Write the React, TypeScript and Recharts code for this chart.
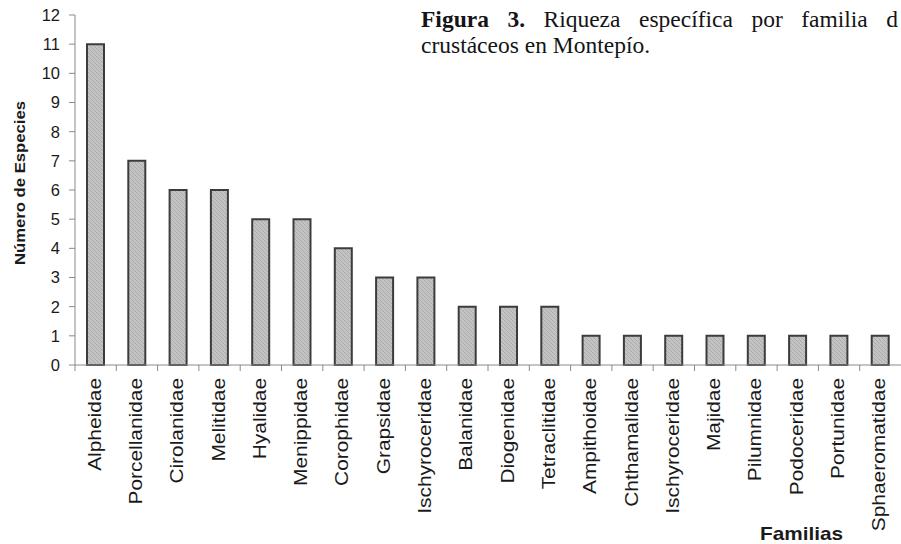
import React from 'react';
import { BarChart, Bar, XAxis, YAxis } from 'recharts';

const families = [
	'Alpheidae',
	'Porcellanidae',
	'Cirolanidae',
	'Melitidae',
	'Hyalidae',
	'Menippidae',
	'Corophidae',
	'Grapsidae',
	'Ischyroceridae',
	'Balanidae',
	'Diogenidae',
	'Tetraclitidae',
	'Ampithoidae',
	'Chthamalidae',
	'Ischyroceridae ',
	'Majidae',
	'Pilumnidae',
	'Podoceridae',
	'Portunidae',
	'Sphaeromatidae',
];
const species = [11, 7, 6, 6, 5, 5, 4, 3, 3, 2, 2, 2, 1, 1, 1, 1, 1, 1, 1, 1];
const yTicks = [0, 1, 2, 3, 4, 5, 6, 7, 8, 9, 10, 11, 12];

const titleLine1 = ['Riqueza', 'específica', 'por', 'familia', 'd'];
const titleLine2 = 'crustáceos en Montepío.';

const data = families.map((name, i) => ({ name, value: species[i] }));

const CHART_W = 901;
const CHART_H = 544;
const AXIS_W = 75;
const HALF_BAND = (CHART_W - AXIS_W) / families.length / 2;

function FamilyTick(props: any) {
	const { x, y, payload } = props;
	const off = payload && payload.offset ? payload.offset : HALF_BAND;
	return (
		<g>
			<line x1={x - off} x2={x - off} y1={y} y2={y + 6} stroke="#8a8a8a" strokeWidth={1} />
			<text
				transform={`translate(${x + 5}, ${y + 13}) rotate(-90) scale(1.16, 1)`}
				textAnchor="end"
				fontFamily="'Liberation Sans', Arial, sans-serif"
				fontSize={18}
				fill="#1a1a1a"
			>
				{String(payload.value).trim()}
			</text>
		</g>
	);
}

export default function App() {
	return (
		<div style={{ position: 'relative', width: CHART_W, height: CHART_H, background: '#fff' }}>
			<style>{'body{margin:0}'}</style>
			<BarChart
				width={CHART_W}
				height={CHART_H}
				data={data}
				margin={{ top: 15, right: 0, left: 0, bottom: 0 }}
			>
				<defs>
					<pattern id="hatch" patternUnits="userSpaceOnUse" width="4" height="4">
						<rect width="4" height="4" fill="#c3c3c3" />
						<path d="M-1,-1 L5,5 M3,-1 L5,1 M-1,3 L1,5" stroke="#acacac" strokeWidth="1" />
					</pattern>
				</defs>
				<XAxis
					dataKey="name"
					height={179}
					interval={0}
					tickSize={0}
					tickMargin={0}
					tickLine={false}
					axisLine={{ stroke: '#8a8a8a', strokeWidth: 1 }}
					tick={<FamilyTick />}
				/>
				<YAxis
					width={AXIS_W}
					domain={[0, 12]}
					ticks={yTicks}
					interval={0}
					tickSize={6}
					tickMargin={9}
					axisLine={{ stroke: '#8a8a8a', strokeWidth: 1 }}
					tickLine={{ stroke: '#8a8a8a', strokeWidth: 1 }}
					tick={{
						fill: '#1a1a1a',
						fontSize: 16.5,
						fontFamily: "'Liberation Sans', Arial, sans-serif",
					}}
				/>
				<Bar
					dataKey="value"
					fill="url(#hatch)"
					stroke="#3c3c3c"
					strokeWidth={2}
					barSize={17}
					isAnimationActive={false}
				/>
			</BarChart>

			<svg
				width={CHART_W}
				height={CHART_H}
				style={{ position: 'absolute', left: 0, top: 0, pointerEvents: 'none' }}
			>
				<text
					transform="translate(25, 183) rotate(-90)"
					textAnchor="middle"
					textLength={164}
					lengthAdjust="spacingAndGlyphs"
					fontFamily="'Liberation Sans', Arial, sans-serif"
					fontWeight="bold"
					fontSize={15}
					fill="#1a1a1a"
				>
					Número de Especies
				</text>
				<text
					x={760}
					y={540}
					textLength={83}
					lengthAdjust="spacingAndGlyphs"
					fontFamily="'Liberation Sans', Arial, sans-serif"
					fontWeight="bold"
					fontSize={18.5}
					fill="#1a1a1a"
				>
					Familias
				</text>
			</svg>

			<div
				style={{
					position: 'absolute',
					left: 421,
					top: 6,
					width: 477,
					fontFamily: "'Liberation Serif', 'Times New Roman', serif",
					fontSize: 23.5,
					lineHeight: '26px',
					color: '#141414',
					whiteSpace: 'nowrap',
				}}
			>
				<div style={{ display: 'flex', justifyContent: 'space-between' }}>
					<b>Figura</b>
					<b>3.</b>
					{titleLine1.map((w, i) => (
						<span key={i}>{w}</span>
					))}
				</div>
				<div>{titleLine2}</div>
			</div>
		</div>
	);
}
